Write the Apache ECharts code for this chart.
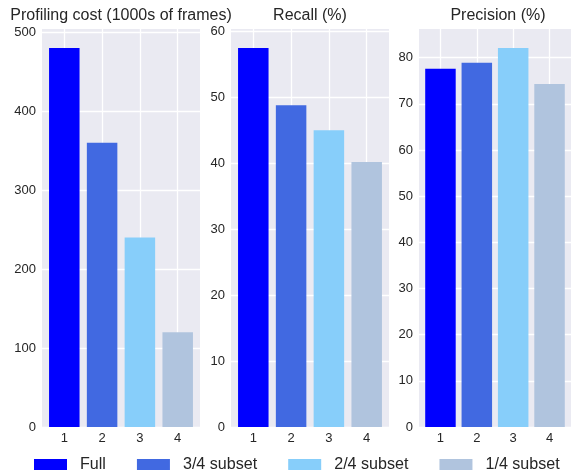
<!DOCTYPE html>
<html>
<head>
<meta charset="utf-8">
<script src="https://cdn.jsdelivr.net/npm/echarts@6/dist/echarts.min.js"></script>
<style>html,body{margin:0;padding:0;background:#fff}#c{width:571px;height:470px}</style>
</head>
<body>
<div id="c"></div>
<script>
const categories = [1, 2, 3, 4];
const seriesNames = ['Full', '3/4 subset', '2/4 subset', '1/4 subset'];
const profilingCost = [480, 360, 240, 120];
const recall = [57.5, 48.8, 45.0, 40.2];
const precision = [77.6, 78.9, 82.1, 74.3];
const titles = ['Profiling cost (1000s of frames)', 'Recall (%)', 'Precision (%)'];
const yTicks = [
  [0, 100, 200, 300, 400, 500],
  [0, 10, 20, 30, 40, 50, 60],
  [0, 10, 20, 30, 40, 50, 60, 70, 80]
];
const colors = ['#0000FF', '#4169E1', '#87CEFA', '#B0C4DE'];

const panels = [profilingCost, recall, precision];
const gridLefts = [42, 231, 419];
const gridWidth = 158;
const gridTop = 29;
const gridHeight = 398;
const textColor = '#262626';
const FONT = 'Liberation Sans, Arial, sans-serif';

const chart = echarts.init(document.getElementById('c'), null, {renderer: 'canvas'});

const grids = [], xAxes = [], yAxes = [], series = [], title = [];
panels.forEach((vals, p) => {
  grids.push({left: gridLefts[p], top: gridTop, width: gridWidth, height: gridHeight,
    show: true, backgroundColor: '#EAEAF2', borderWidth: 0, containLabel: false});
  xAxes.push({
    gridIndex: p, type: 'value', min: 0.41, max: 4.59,
    axisLine: {show: false}, axisTick: {show: false, customValues: categories},
    axisLabel: {customValues: categories, color: textColor, fontSize: 13, fontFamily: FONT, margin: 5},
    splitLine: {show: true, lineStyle: {color: '#ffffff', width: 1.3}}
  });
  const maxV = Math.max(...vals) * 1.05;
  yAxes.push({
    gridIndex: p, type: 'value', min: 0, max: maxV,
    axisLine: {show: false}, axisTick: {show: false, customValues: yTicks[p]},
    axisLabel: {customValues: yTicks[p], color: textColor, fontSize: 13, fontFamily: FONT, margin: 6},
    splitLine: {show: true, lineStyle: {color: '#ffffff', width: 1.3}}
  });
  seriesNames.forEach((name, i) => {
    series.push({
      name: name, type: 'bar', xAxisIndex: p, yAxisIndex: p,
      data: [[categories[i], vals[i]]],
      barWidth: 30.5, barGap: '-100%',
      itemStyle: {color: colors[i]},
      silent: true, animation: false
    });
  });
  title.push({
    text: titles[p], left: gridLefts[p] + gridWidth / 2, top: 8, padding: 0,
    textAlign: 'center',
    textStyle: {color: textColor, fontSize: 16, fontWeight: 'normal', fontFamily: FONT}
  });
});

chart.setOption({
  animation: false,
  title: title,
  grid: grids,
  xAxis: xAxes,
  yAxis: yAxes,
  series: series,
  legend: {
    data: seriesNames.map((n, i) => ({name: n, icon: 'rect', itemStyle: {color: colors[i]}})),
    left: 34, top: 457, itemWidth: 33, itemHeight: 12, itemGap: 31, padding: 0,
    textStyle: {color: textColor, fontSize: 16.1, fontFamily: FONT, padding: [0, 0, 0, 8]},
    selectedMode: false
  }
});
</script>
</body>
</html>
